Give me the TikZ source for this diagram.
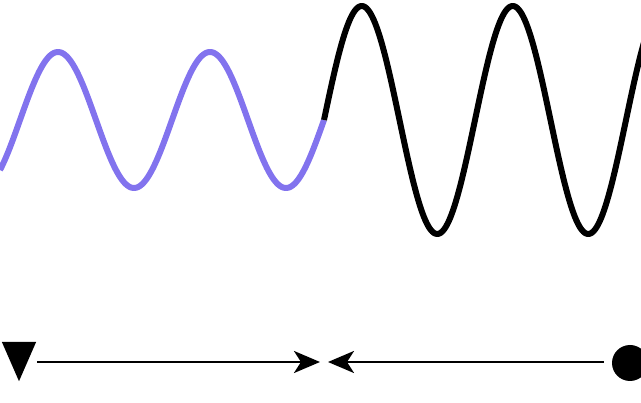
\documentclass[tikz,border=0pt]{standalone}
\usetikzlibrary{arrows.meta,shapes.geometric}
\definecolor{wavecol}{RGB}{130,115,238}
\tikzset{
  wave/.style={line width=6pt, line join=round},
  conn/.style={line width=2.8pt, -{Stealth[length=26pt,width=22pt,inset=7pt]}},
  tribox/.style={inner sep=0pt, minimum width=34pt, minimum height=39pt},
  dotnode/.style={circle, fill=black, inner sep=0pt, minimum size=36pt}
}
\begin{document}
\begin{tikzpicture}[x=1pt,y=-1pt]
\useasboundingbox (0,0) rectangle (641,403);
\draw[wave, wavecol] plot[domain=0:324, samples=200] (\x, {120-68*sin((\x-20)/152*360)});
\draw[wave, black] plot[domain=324:645, samples=220] (\x, {120-114*sin((\x-324)/151*360)});
\node[tribox] (a) at (19,361.5) {};
\fill (a.north west) -- (a.north east) -- (a.south) -- cycle;
\node[dotnode] (b) at (630,363) {};
\coordinate (m1) at (320,362);
\coordinate (m2) at (328,362);
\draw[conn] (a.east |- m1) ++(1,0) coordinate (s1) (s1) -- (m1);
\draw[conn] (b.west |- m2) ++(-8,0) coordinate (s2) (s2) -- (m2);
\end{tikzpicture}
\end{document}
